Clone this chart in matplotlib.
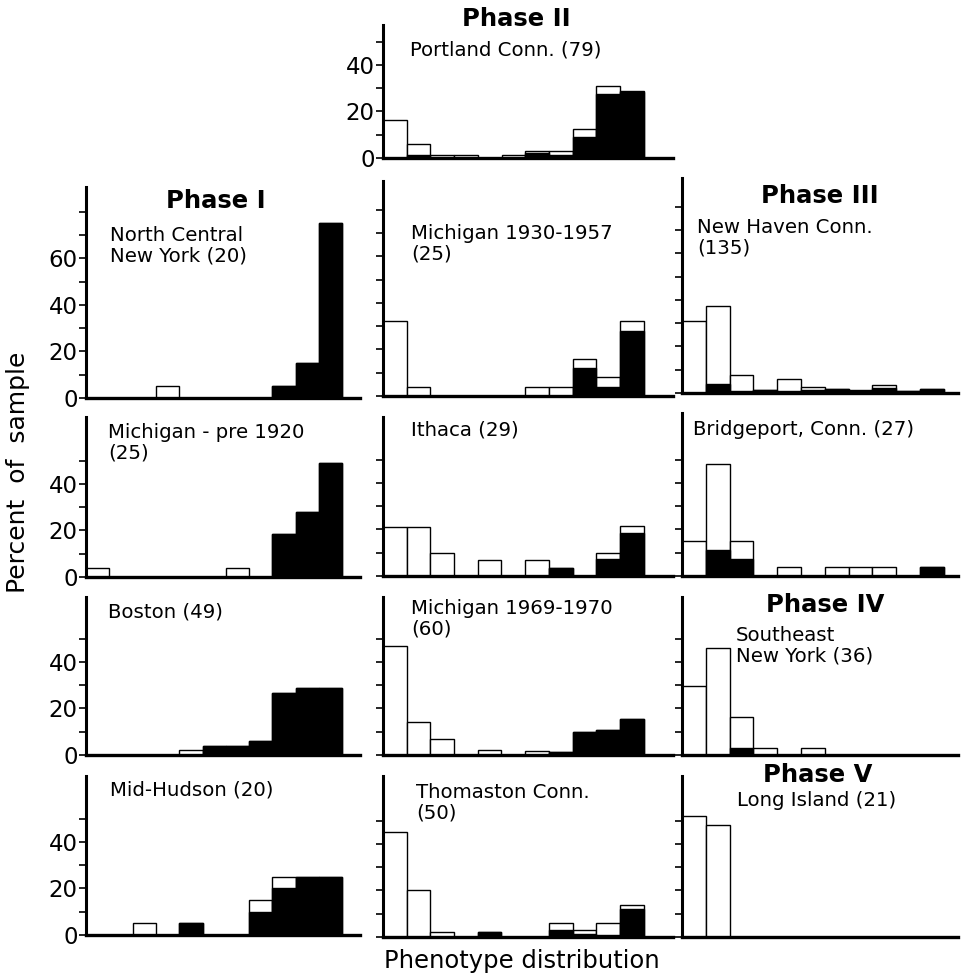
import numpy as np
import matplotlib.pyplot as plt

plt.rcParams['font.family'] = ['DejaVu Sans']

W, H = 965, 976
PX = 2.33          # pixels per percent on every panel
bins = np.arange(11)

# percent of sample per phenotype class: total bar height, and the black part
portland_total = [16.5, 6.1, 1.3, 1.5, 0, 1.3, 3.1, 3.2, 12.5, 30.8, 28.6]
portland_black = [0, 1.3, 0, 0, 0, 0, 2.0, 1.3, 8.9, 27.5, 28.2]

ncny_total = [0, 0, 0, 5, 0, 0, 0, 0, 5, 15, 75]
ncny_black = [0, 0, 0, 0, 0, 0, 0, 0, 5, 15, 75]

mich30_total = [32, 4, 0, 0, 0, 0, 4, 4, 16, 8, 32]
mich30_black = [0, 0, 0, 0, 0, 0, 0, 0, 12, 4, 28]

newhaven_total = [31, 37.3, 7.6, 1.1, 6.2, 2.5, 1.7, 1.4, 3.5, 0.7, 1.8]
newhaven_black = [0, 3.9, 1.0, 1.1, 0.7, 1.4, 1.7, 1.0, 2.0, 0.7, 1.8]

mich20_total = [4, 0, 0, 0, 0, 0, 4, 0, 18.5, 28, 49]
mich20_black = [0, 0, 0, 0, 0, 0, 0, 0, 18.5, 28, 49]

ithaca_total = [21, 21, 10, 0, 6.7, 0, 7, 3.3, 0, 10, 21.3]
ithaca_black = [0, 0, 0, 0, 0, 0, 0, 3.3, 0, 7.4, 18.4]

bridge_total = [15, 48, 15, 0, 3.7, 0, 3.7, 3.7, 3.7, 0, 3.7]
bridge_black = [0, 11.1, 7.4, 0, 0, 0, 0, 0, 0, 0, 3.7]

boston_total = [0, 0, 0, 0, 2, 4, 4, 6, 26.5, 28.8, 28.8]
boston_black = [0, 0, 0, 0, 0, 4, 4, 6, 26.5, 28.8, 28.8]

mich69_total = [46.7, 14.3, 6.7, 0, 2, 0, 1.7, 1.5, 9.7, 10.7, 15.3]
mich69_black = [0, 0, 0, 0, 0, 0, 0, 1.5, 9.7, 10.7, 15.3]

seny_total = [29.5, 46, 16.5, 2.8, 0, 2.8, 0, 0, 0, 0, 0]
seny_black = [0, 0, 2.8, 0, 0, 0, 0, 0, 0, 0, 0]

midhud_total = [0, 0, 5, 0, 5, 0, 0, 15, 25, 25, 25]
midhud_black = [0, 0, 0, 0, 5, 0, 0, 10, 20, 25, 25]

thom_total = [45, 20, 2, 0, 2, 0, 0, 6, 2.9, 6, 13.6]
thom_black = [0, 0, 0, 0, 2, 0, 0, 3, 1.4, 1, 11.9]

longisl_total = [52, 48, 0, 0, 0, 0, 0, 0, 0, 0, 0]
longisl_black = [0, 0, 0, 0, 0, 0, 0, 0, 0, 0, 0]

# column geometry in pixels: axis left, axis right, bin width
cols = [(86, 360, 23.3), (383, 673, 23.7), (682, 958, 23.8)]

fig = plt.figure(figsize=(W / 100, H / 100), dpi=100)


def panel(col, top, base, total, black, ymax_tick, labels=None):
    left, right, bw = cols[col]
    ax = fig.add_axes([left / W, 1 - base / H, (right - left) / W, (base - top) / H])
    ax.bar(bins, total, width=1, align='edge', facecolor='white',
           edgecolor='black', linewidth=1.0)
    ax.bar(bins, black, width=1, align='edge', facecolor='black',
           edgecolor='black', linewidth=1.0)
    ax.set_xlim(0, (right - left) / bw)
    ax.set_ylim(0, (base - top) / PX)
    for s in ('top', 'right'):
        ax.spines[s].set_visible(False)
    ax.spines['left'].set_linewidth(2.2)
    ax.spines['bottom'].set_linewidth(2.4)
    ax.set_xticks([])
    ticks = np.arange(0, ymax_tick + 1, 10)
    ax.set_yticks(ticks)
    ax.tick_params(axis='y', direction='out', length=5, width=1.2, pad=1,
                   labelsize=16.5)
    if labels:
        ax.set_yticklabels([str(v) if v in labels else '' for v in ticks])
    else:
        ax.set_yticklabels([])
    ax.patch.set_alpha(0)
    return ax


panel(1, 25, 158, portland_total, portland_black, 50, [0, 20, 40])

panel(0, 187, 398, ncny_total, ncny_black, 80, [0, 20, 40, 60])
panel(1, 181, 396, mich30_total, mich30_black, 80)
panel(2, 178, 393, newhaven_total, newhaven_black, 80)

panel(0, 417, 577, mich20_total, mich20_black, 50, [0, 20, 40])
panel(1, 417, 576, ithaca_total, ithaca_black, 50)
panel(2, 413, 576, bridge_total, bridge_black, 50)

panel(0, 597, 755, boston_total, boston_black, 50, [0, 20, 40])
panel(1, 597, 755, mich69_total, mich69_black, 50)
panel(2, 597, 755, seny_total, seny_black, 50)

panel(0, 776, 935, midhud_total, midhud_black, 50, [0, 20, 40])
panel(1, 776, 937, thom_total, thom_black, 50)
panel(2, 776, 937, longisl_total, longisl_black, 50)


def txt(x, y, s, **kw):
    fig.text(x / W, 1 - y / H, s, va='baseline', linespacing=1.1, **kw)


def txt2(x, y, s, **kw):
    fig.text(x / W, 1 - y / H, s, va='top', linespacing=1.1, **kw)


head = dict(fontsize=17.5, fontweight='bold', ha='center')
lab = dict(fontsize=14.2, ha='left')

txt(516, 26, 'Phase II', **head)
txt(410, 55, 'Portland Conn. (79)', **lab)

txt(216, 208, 'Phase I', **head)
txt(820, 203, 'Phase III', **head)
txt(825, 612, 'Phase IV', **head)
txt(818, 782, 'Phase V', **head)

txt2(110, 226, 'North Central\nNew York (20)', **lab)
txt2(411, 224, 'Michigan 1930-1957\n(25)', **lab)
txt2(697, 218, 'New Haven Conn.\n(135)', **lab)
txt2(108, 423, 'Michigan - pre 1920\n(25)', **lab)
txt(411, 435, 'Ithaca (29)', **lab)
txt(693, 435, 'Bridgeport, Conn. (27)', **lab)
txt(108, 617, 'Boston (49)', **lab)
txt2(411, 599, 'Michigan 1969-1970\n(60)', **lab)
txt2(736, 626, 'Southeast\nNew York (36)', **lab)
txt(110, 796, 'Mid-Hudson (20)', **lab)
txt2(416, 783, 'Thomaston Conn.\n(50)', **lab)
txt(737, 806, 'Long Island (21)', **lab)

fig.text(18 / W, 1 - 472 / H, 'Percent  of  sample', rotation=90,
         ha='center', va='center', fontsize=18)
fig.text(522 / W, 1 - 968 / H, 'Phenotype distribution', ha='center',
         va='baseline', fontsize=17.5)

fig.savefig('out.png', dpi=100)
